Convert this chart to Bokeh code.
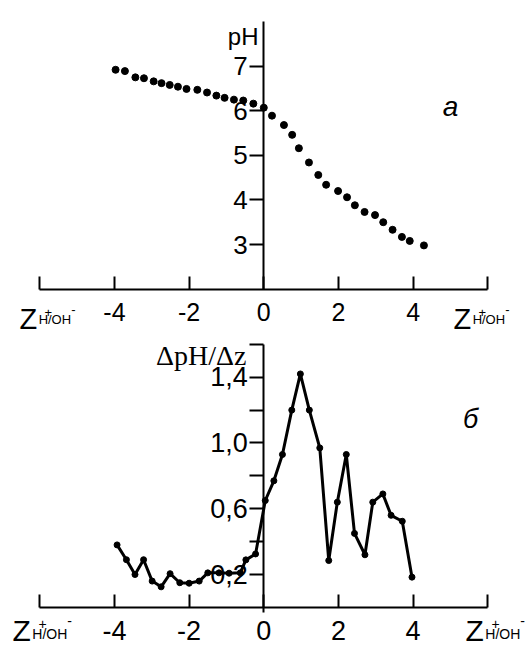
from bokeh.plotting import figure
from bokeh.models import Range1d, LinearAxis, FixedTicker, Label
from bokeh.embed import file_html
from bokeh.resources import INLINE

# ---- data: panel a (pH vs Z) ----
z_ph = [-3.97, -3.72, -3.44, -3.21, -2.95, -2.74, -2.52, -2.30, -2.07, -1.78, -1.52,
        -1.27, -1.05, -0.80, -0.55, -0.28, 0.00, 0.22, 0.54, 0.76, 0.94, 1.21, 1.46,
        1.67, 1.99, 2.23, 2.44, 2.70, 2.98, 3.20, 3.45, 3.70, 3.91, 4.29]
ph = [6.92, 6.89, 6.75, 6.73, 6.66, 6.62, 6.58, 6.54, 6.49, 6.47, 6.41,
      6.34, 6.29, 6.25, 6.23, 6.16, 6.07, 5.89, 5.68, 5.46, 5.16, 4.84, 4.56,
      4.34, 4.20, 4.06, 3.88, 3.73, 3.66, 3.50, 3.33, 3.17, 3.08, 2.98]

# ---- data: panel б (ΔpH/Δz vs Z) ----
z_d = [-3.93, -3.68, -3.45, -3.22, -2.99, -2.75, -2.51, -2.25, -2.00, -1.73, -1.50,
       -1.20, -0.93, -0.63, -0.48, -0.22, 0.04, 0.27, 0.50, 0.75, 0.98, 1.22, 1.50,
       1.74, 1.97, 2.21, 2.43, 2.71, 2.92, 3.19, 3.41, 3.71, 3.97]
dph = [0.38, 0.29, 0.20, 0.29, 0.16, 0.125, 0.205, 0.15, 0.147, 0.16, 0.21,
       0.21, 0.208, 0.21, 0.289, 0.325, 0.65, 0.77, 0.93, 1.20, 1.42, 1.20, 0.97,
       0.285, 0.64, 0.93, 0.45, 0.32, 0.64, 0.69, 0.56, 0.524, 0.184]

x_ticks = [-6, -4, -2, 0, 2, 4, 6]
x_tick_labels = {-6: " ", -4: "-4", -2: "-2", 6: " "}
ph_ticks = [3, 4, 5, 6, 7]
d_ticks = [0.2, 0.4, 0.6, 0.8, 1.0, 1.2, 1.4, 1.6]
d_tick_labels = {0.2: "0,2", 0.4: " ", 0.6: "0,6", 0.8: " ", 1.0: "1,0",
                 1.2: " ", 1.4: "1,4", 1.6: " "}

W, H = 529, 647
FONT = "Liberation Sans"

p = figure(width=W, height=H, x_range=Range1d(-7.053, 7.118),
           y_range=Range1d(-6.041, 8.474), x_axis_type=None, y_axis_type=None,
           output_backend="svg", toolbar_location=None, min_border=0,
           outline_line_color=None, background_fill_color="white",
           border_fill_color="white")
p.extra_y_ranges = {"bot": Range1d(-0.244, 3.6915)}


def style(ax, size):
    ax.axis_line_width = 2
    ax.major_tick_line_width = 2
    ax.minor_tick_in = 0
    ax.minor_tick_out = 0
    ax.major_label_text_font = FONT
    ax.major_label_text_font_size = f"{size}px"
    ax.major_label_text_color = "black"
    return ax


# top panel axes
ax_top_x = style(LinearAxis(fixed_location=2, bounds=(-6, 6),
                            ticker=FixedTicker(ticks=x_ticks),
                            major_label_overrides=x_tick_labels,
                            major_tick_in=13, major_tick_out=0,
                            major_label_standoff=9), 25)
p.add_layout(ax_top_x, "below")
ax_top_y = style(LinearAxis(fixed_location=0, bounds=(2, 8),
                            ticker=FixedTicker(ticks=ph_ticks),
                            major_tick_in=0, major_tick_out=14,
                            major_label_standoff=2), 26)
p.add_layout(ax_top_y, "left")

# bottom panel axes
ax_bot_x = style(LinearAxis(y_range_name="bot", fixed_location=0, bounds=(-6, 6),
                            ticker=FixedTicker(ticks=x_ticks),
                            major_label_overrides=x_tick_labels,
                            major_tick_in=13, major_tick_out=0,
                            major_label_standoff=9), 27)
p.add_layout(ax_bot_x, "below")
ax_bot_y = style(LinearAxis(y_range_name="bot", fixed_location=0, bounds=(-0.031, 1.6),
                            ticker=FixedTicker(ticks=d_ticks),
                            major_label_overrides=d_tick_labels,
                            major_tick_in=0, major_tick_out=14,
                            major_label_standoff=2), 27)
p.add_layout(ax_bot_y, "left")

# data
p.scatter(z_ph, ph, marker="circle", size=7, color="black")
p.line(z_d, dph, y_range_name="bot", line_width=3, color="black")
p.scatter(z_d, dph, y_range_name="bot", marker="circle", size=6, color="black")


def lab(text, rx, ry, size, font=FONT, style_="normal", align="left"):
    p.add_layout(Label(x=rx, y=H - ry, x_units="screen", y_units="screen",
                       text=text, text_font=font, text_font_size=f"{size}px",
                       text_font_style=style_, text_align=align,
                       text_baseline="alphabetic", text_color="black"))


def zlabel(rx, base, zsize, ssize, sub_drop=1):
    lab("Z", rx, base, zsize)
    zw = zsize * 0.66
    lab("H", rx + zw, base + sub_drop, ssize)
    lab("+", rx + zw + ssize * 0.45, base - ssize * 0.45, ssize)
    lab("/OH", rx + zw + ssize * 0.72, base + sub_drop, ssize)
    lab("-", rx + zw + ssize * 0.72 + ssize * 1.78, base - ssize * 0.7, ssize)


zlabel(19, 318, 29, 13)
zlabel(453, 318, 29, 13)
zlabel(12, 630, 30, 14, sub_drop=3)
zlabel(465, 630, 30, 14, sub_drop=3)

lab("pH", 258, 36, 24, align="right")
lab("ΔpH/Δz", 246, 355, 28, font="Liberation Serif", align="right")
lab("а", 450, 106, 28, style_="italic", align="center")
lab("б", 470, 418, 27, style_="italic", align="center")

open("out.html", "w").write(file_html(p, INLINE))
